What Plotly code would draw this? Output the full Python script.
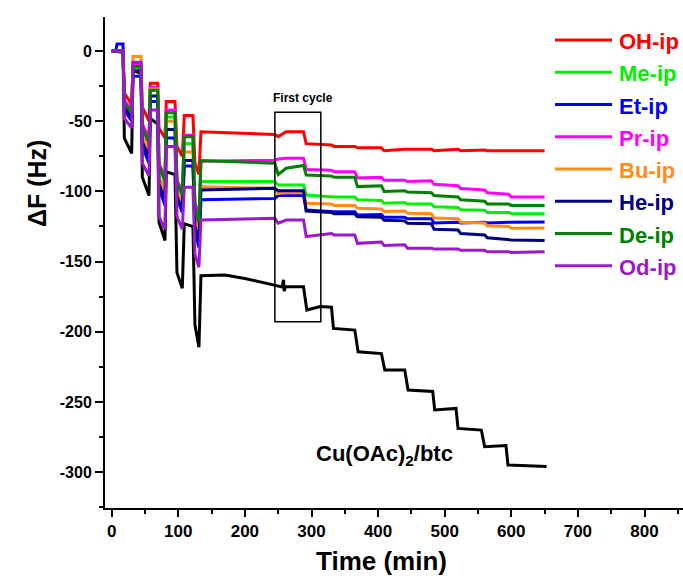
import plotly.graph_objects as go

# ---------------- data ----------------
time_color = [0, 6, 8, 17, 19, 30, 32, 44, 46, 56, 58, 69, 71, 80, 82, 95, 98, 106, 109, 122, 125, 131, 134,
              245, 250, 262, 288, 292, 330, 334, 365, 369, 405, 409, 440, 444, 480, 484, 520, 524, 560, 564, 596, 600, 650]

oh_ip = [0, 0, 0, 0, -30, -38, -9, -9, -40, -50, -23, -23, -55, -62, -36, -36, -68, -75, -46, -46, -80, -88, -57.5,
         -59.5, -61, -57.5, -57.5, -66, -67, -68, -68, -69, -69, -71, -70, -70, -70, -71, -70, -71, -70.5, -71, -71, -71.5, -71]
me_ip = [0, 0, 0, 0, -38, -45, -12, -12, -55, -68, -28, -28, -80, -95, -47, -47, -95, -105, -66, -66, -112, -125, -93,
         -93, -95.4, -95.4, -95.4, -102.6, -103.5, -104, -104, -106, -106.5, -108.5, -108, -109, -109, -111, -111.5, -113, -113.5, -115, -115, -116, -116]
et_ip = [0, 0, 5, 5, -42, -50, -18, -18, -68, -80, -36, -36, -98, -110, -62, -62, -105, -115, -82, -82, -128, -140, -106,
         -105, -103, -103, -103, -113.2, -114, -114.5, -114.5, -116.8, -116.5, -118.5, -118.5, -119.5, -119.5, -122.5, -122, -122.5, -122, -122.5, -122, -122, -121.8]
pr_ip = [0, 0, 0, 0, -35, -42, -10, -10, -52, -62, -26, -26, -80, -90, -42, -42, -92, -100, -60, -60, -108, -118, -78.5,
         -77.8, -77, -76.4, -76.4, -84.5, -85, -86, -86, -90.5, -90, -92, -92, -93, -92.5, -95, -96, -98, -99, -101, -102, -104, -104]
bu_ip = [0, 0, 0, 0, -38, -45, -4, -4, -60, -70, -27, -27, -90, -100, -50, -50, -100, -108, -72, -72, -120, -130, -96.7,
         -97.8, -101.4, -101, -101, -108.5, -109, -110, -110, -112, -112.5, -114.4, -114, -115.5, -116, -119, -119.5, -122, -122.5, -124.5, -125, -126.3, -126]
he_ip = [0, 0, 0, 0, -40, -48, -14, -14, -65, -75, -32, -32, -95, -105, -56, -56, -104, -112, -78, -78, -125, -135, -99,
         -97.8, -99.5, -99.5, -99.5, -114, -115, -116, -116, -118, -118.5, -120.5, -121, -122.7, -123, -127, -127.5, -130, -131, -133, -134, -134.6, -135]
de_ip = [0, 0, 0, 0, -37, -44, -11, -11, -55, -65, -28, -28, -82, -92, -44, -44, -94, -102, -61, -61, -112, -122, -78,
         -80, -88, -83.5, -81.5, -88.3, -89, -90, -90, -96.6, -96, -100, -99.5, -100.5, -101, -103, -104, -106, -107, -109, -109, -110, -110]
od_ip = [0, 0, 0, 0, -48, -55, -8, -8, -80, -89, -42, -42, -118, -127, -68, -68, -118, -127, -97, -97, -145, -154, -120.4,
         -119.2, -122.7, -120.4, -120.4, -132.2, -130, -131, -131, -137, -136, -138.5, -138, -140.5, -140.5, -141, -141, -142, -142, -143, -143, -143.5, -143]

time_cu = [0, 17, 19, 30, 32, 44, 46, 56, 58, 69, 71, 80, 82, 95, 98, 106, 109, 122, 125, 131, 134,
           170, 200, 230, 256, 258, 259, 261, 288, 293, 298, 313, 330, 333, 365, 370, 405, 410, 440, 445,
           482, 485, 517, 520, 555, 560, 592, 595, 653]
cu_btc = [0, -1, -62, -73, -14, -16, -90, -103, -48, -52, -122, -135, -86, -88, -158, -169, -123, -125, -195, -211, -160,
          -159.6, -162, -165, -168, -163, -171, -168, -168, -184.5, -184, -182, -182.5, -197.6, -198.8, -214.2, -215.5,
          -227.3, -227.3, -241.5, -242.5, -255.7, -254.6, -268.8, -270, -281.9, -281, -294.9, -296]

series_names = ["OH-ip", "Me-ip", "Et-ip", "Pr-ip", "Bu-ip", "He-ip", "De-ip", "Od-ip"]
series_values = [oh_ip, me_ip, et_ip, pr_ip, bu_ip, he_ip, de_ip, od_ip]
series_colors = ["#FF0000", "#00F000", "#0000FF", "#FF00FF", "#FF8C1A", "#000080", "#008000", "#9A1ACB"]

x_ticks = [0, 100, 200, 300, 400, 500, 600, 700, 800]
y_ticks = [0, -50, -100, -150, -200, -250, -300]

# ---------------- figure ----------------
W, H = 683, 578
ML, MR, MT, MB = 105, 0, 17, 70
PW, PH = W - ML - MR, H - MT - MB

def px(x):
    return (x - ML) / PW

def py(y):
    return (H - MB - y) / PH

FONT = "Liberation Sans, Arial, sans-serif"

fig = go.Figure()
fig.add_trace(go.Scatter(x=time_cu, y=cu_btc, mode="lines", name="Cu(OAc)2/btc",
                         line=dict(color="black", width=3), showlegend=False))
for name, vals, col in zip(series_names, series_values, series_colors):
    fig.add_trace(go.Scatter(x=time_color, y=vals, mode="lines", name=name,
                             line=dict(color=col, width=3), showlegend=False))

shapes = []
annotations = []

# "First cycle" box
shapes.append(dict(type="rect", xref="x", yref="y", x0=245, x1=314, y0=-192.8, y1=-43.7,
                   line=dict(color="black", width=1.5), fillcolor="rgba(0,0,0,0)"))
annotations.append(dict(x=287, y=-33.5, xref="x", yref="y", text="First cycle", showarrow=False,
                        font=dict(family=FONT, size=12, color="black", weight="bold")))
annotations.append(dict(x=409, y=-287.5, xref="x", yref="y", text="Cu(OAc)<sub>2</sub>/btc",
                        showarrow=False, font=dict(family=FONT, size=22, color="black", weight="bold")))

# manual legend
leg_y = [40, 72.3, 104.5, 136.7, 169, 201.3, 233.5, 265.8]
for name, col, ly in zip(series_names, series_colors, leg_y):
    shapes.append(dict(type="line", xref="paper", yref="paper", x0=px(555), x1=px(612), y0=py(ly), y1=py(ly),
                       line=dict(color=col, width=3)))
    annotations.append(dict(x=px(617), y=py(ly + 1.5), xref="paper", yref="paper", text=name, showarrow=False,
                            xanchor="left", yanchor="middle",
                            font=dict(family=FONT, size=22, color=col, weight="bold")))

# axis titles
annotations.append(dict(x=px(381), y=py(561), xref="paper", yref="paper", text="Time (min)", showarrow=False,
                        xanchor="center", yanchor="middle",
                        font=dict(family=FONT, size=26, color="black", weight="bold")))
annotations.append(dict(x=px(37), y=py(184), xref="paper", yref="paper", text="ΔF (Hz)", showarrow=False,
                        textangle=-90, xanchor="center", yanchor="middle",
                        font=dict(family=FONT, size=25, color="black", weight="bold")))

fig.update_layout(
    width=W, height=H,
    margin=dict(l=ML, r=MR, t=MT, b=MB, pad=0),
    paper_bgcolor="white", plot_bgcolor="white",
    shapes=shapes, annotations=annotations,
    showlegend=False,
)
fig.update_xaxes(range=[-10.06, 857.8], tickmode="array", tickvals=x_ticks, ticktext=[str(v) for v in x_ticks],
                 ticks="outside", ticklen=7, tickwidth=2, tickcolor="black",
                 showline=True, linewidth=2, linecolor="black", showgrid=False, zeroline=False,
                 tickfont=dict(family=FONT, size=17, color="black", weight="bold"),
                 minor=dict(tickmode="linear", tick0=50, dtick=100, ticks="outside", ticklen=4, tickwidth=2, tickcolor="black"))
fig.update_yaxes(range=[-325.5, 24.2], tickmode="array", tickvals=y_ticks, ticktext=[str(v) for v in y_ticks],
                 ticks="outside", ticklen=8, tickwidth=2, tickcolor="black",
                 showline=True, linewidth=2, linecolor="black", showgrid=False, zeroline=False,
                 tickfont=dict(family=FONT, size=16, color="black", weight="bold"),
                 minor=dict(tickmode="linear", tick0=-25, dtick=50, ticks="outside", ticklen=4, tickwidth=2, tickcolor="black"))

fig.write_html("out.html")
